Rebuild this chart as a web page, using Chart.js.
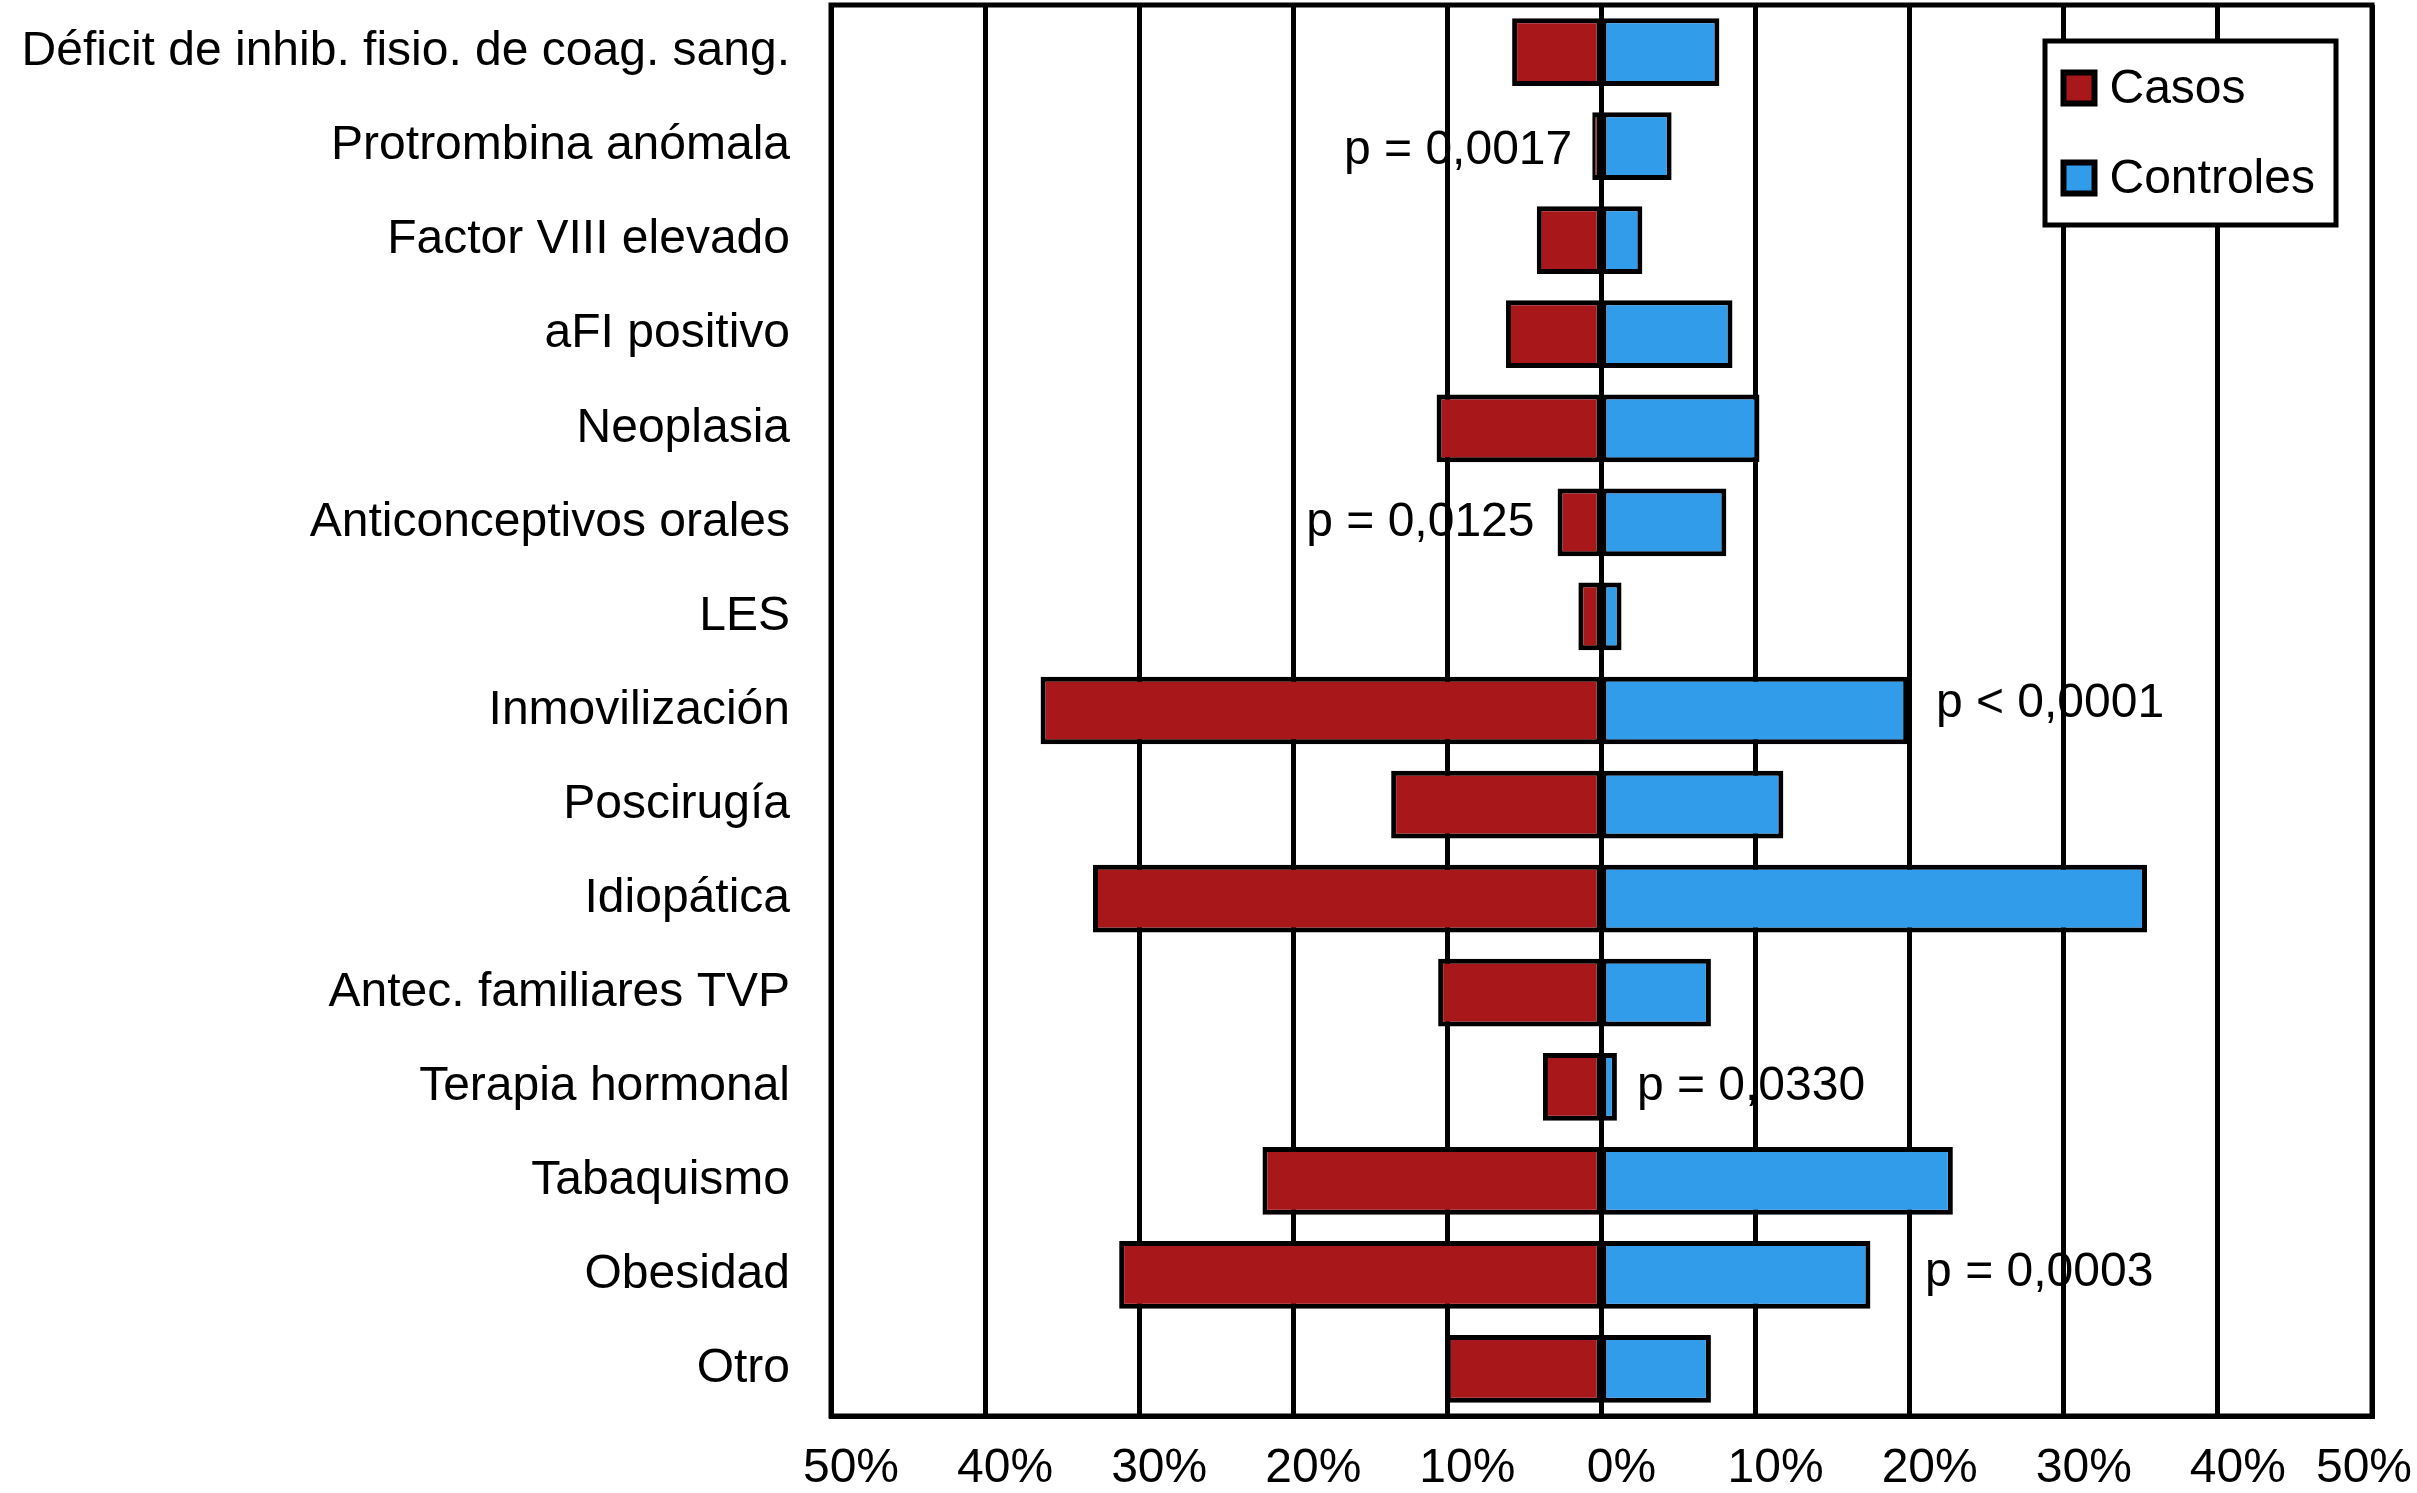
<!DOCTYPE html>
<html><head><meta charset="utf-8">
<script src="https://cdn.jsdelivr.net/npm/chart.js@4.4.1/dist/chart.umd.min.js"></script>
<style>html,body{margin:0;padding:0;background:#fff;overflow:hidden}canvas{display:block}</style>
</head><body>
<canvas id="c" width="2417" height="1493" style="width:2417px;height:1493px"></canvas>
<script>
const categories = [
  'Déficit de inhib. fisio. de coag. sang.',
  'Protrombina anómala',
  'Factor VIII elevado',
  'aFI positivo',
  'Neoplasia',
  'Anticonceptivos orales',
  'LES',
  'Inmovilización',
  'Poscirugía',
  'Idiopática',
  'Antec. familiares TVP',
  'Terapia hormonal',
  'Tabaquismo',
  'Obesidad',
  'Otro'
];
const casos = [-5.8, -0.6, -4.2, -6.2, -10.7, -2.85, -1.5, -36.4, -13.65, -33.0, -10.6, -3.8, -22.0, -31.3, -10.1];
const controles = [7.65, 4.55, 2.65, 8.5, 10.25, 8.1, 1.3, 19.9, 11.8, 35.4, 7.1, 1.0, 22.8, 17.45, 7.1];
const seriesNames = ['Casos', 'Controles'];
const xTickValues = [-50, -40, -30, -20, -10, 0, 10, 20, 30, 40, 50];
const xTickLabels = ['50%', '40%', '30%', '20%', '10%', '0%', '10%', '20%', '30%', '40%', '50%'];
const pLabels = ['p = 0,0017', 'p = 0,0125', 'p < 0,0001', 'p = 0,0330', 'p = 0,0003'];
const pRows = [1.05, 5.0, 6.93, 11.0, 12.98];
const pX = [-1.9, -4.35, 21.7, 2.3, 21.0];
const pAlign = ['right', 'right', 'left', 'left', 'left'];

const FONT = '"Liberation Sans", Arial, Helvetica, sans-serif';
const RED = '#A8171A';
const BLUE = '#309CEA';

const framePlugin = {
  id: 'frame',
  beforeDatasetsDraw(chart) {
    const a = chart.chartArea, ctx = chart.ctx;
    ctx.save();
    ctx.strokeStyle = '#000';
    ctx.lineWidth = 5;
    ctx.strokeRect(a.left, a.top, a.right - a.left, a.bottom - a.top);
    ctx.restore();
  }
};

const xTickPlugin = {
  id: 'xTickText',
  afterDraw(chart) {
    const xs = chart.scales.x, ctx = chart.ctx, a = chart.chartArea;
    ctx.save();
    ctx.font = '48px ' + FONT;
    ctx.fillStyle = '#000';
    ctx.textAlign = 'center';
    ctx.textBaseline = 'alphabetic';
    xTickValues.forEach((v, i) => {
      const t = xTickLabels[i];
      const w = ctx.measureText(t).width;
      let x = xs.getPixelForValue(v) + 20;
      if (x + w / 2 > chart.width - 5) x = chart.width - 5 - w / 2;
      ctx.fillText(t, x, a.bottom + 66);
    });
    ctx.restore();
  }
};

const pPlugin = {
  id: 'pText',
  afterDatasetsDraw(chart) {
    const xs = chart.scales.x, ys = chart.scales.y, ctx = chart.ctx;
    ctx.save();
    ctx.font = '48px ' + FONT;
    ctx.fillStyle = '#000';
    ctx.textBaseline = 'middle';
    pLabels.forEach((t, i) => {
      ctx.textAlign = pAlign[i];
      ctx.fillText(t, xs.getPixelForValue(pX[i]), ys.getPixelForValue(pRows[i]));
    });
    ctx.restore();
  }
};

const legendPlugin = {
  id: 'boxLegend',
  afterDraw(chart) {
    const a = chart.chartArea, ctx = chart.ctx;
    const bx = a.right - 327, by = a.top + 36, bw = 291, bh = 184;
    ctx.save();
    ctx.fillStyle = '#fff';
    ctx.fillRect(bx, by, bw, bh);
    ctx.strokeStyle = '#000';
    ctx.lineWidth = 5;
    ctx.strokeRect(bx, by, bw, bh);
    ctx.font = '48px ' + FONT;
    ctx.textAlign = 'left';
    ctx.textBaseline = 'alphabetic';
    chart.data.datasets.forEach((ds, i) => {
      const cy = by + 47 + i * 90;
      ctx.fillStyle = ds.backgroundColor;
      ctx.fillRect(bx + 18.5, cy - 15.5, 31, 31);
      ctx.lineWidth = 6;
      ctx.strokeStyle = '#000';
      ctx.strokeRect(bx + 18.5, cy - 15.5, 31, 31);
      ctx.fillStyle = '#000';
      ctx.fillText(ds.label, bx + 64.5, cy + 15);
    });
    ctx.restore();
  }
};

new Chart(document.getElementById('c'), {
  type: 'bar',
  data: {
    labels: categories,
    datasets: [
      { label: seriesNames[0], data: casos, backgroundColor: RED,
        borderWidth: { top: 5, bottom: 5, left: 5, right: 2.5 } },
      { label: seriesNames[1], data: controles, backgroundColor: BLUE,
        borderWidth: { top: 5, bottom: 5, left: 2.5, right: 5 } }
    ]
  },
  options: {
    indexAxis: 'y',
    responsive: false,
    devicePixelRatio: 1,
    animation: false,
    layout: { padding: { top: 5, right: 45, left: 0, bottom: 0 } },
    datasets: {
      bar: {
        barPercentage: 0.72,
        categoryPercentage: 1,
        borderColor: '#000',
        borderSkipped: false
      }
    },
    scales: {
      x: {
        stacked: true,
        min: -50, max: 50,
        ticks: { display: false, stepSize: 10 },
        grid: { color: '#000', lineWidth: 5, drawTicks: false },
        border: { display: true, color: '#000', width: 5 },
        afterFit(s) { s.height = 77; s.paddingLeft = 0; s.paddingRight = 0; }
      },
      y: {
        stacked: true,
        ticks: { color: '#000', font: { family: FONT, size: 48 }, padding: 41, autoSkip: false },
        grid: { display: false, drawTicks: false },
        border: { display: true, color: '#000', width: 5 },
        afterFit(s) { s.width = 831; s.paddingTop = 0; s.paddingBottom = 0; }
      }
    },
    plugins: {
      legend: { display: false },
      tooltip: { enabled: false }
    }
  },
  plugins: [framePlugin, xTickPlugin, pPlugin, legendPlugin]
});
</script>
</body></html>
